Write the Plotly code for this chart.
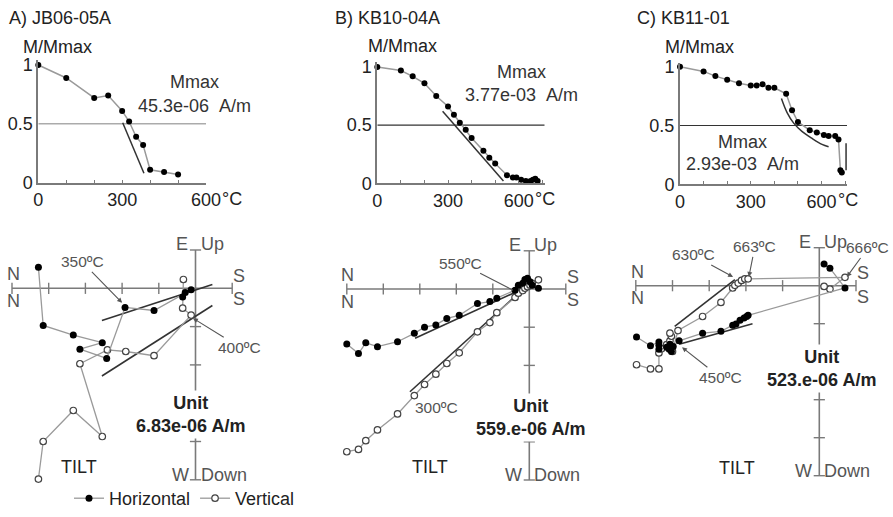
import plotly.graph_objects as go

W, H = 893, 517
FONT = "Liberation Sans, Arial, sans-serif"
AXC = "#7a7a7a"
DLINE = "#9a9a9a"
FITC = "#333333"
TXT = "#222222"
LBL = "#555555"

# ---------------- thermal demagnetisation curves ----------------
temp_a = [0, 100, 200, 250, 300, 325, 350, 375, 400, 450, 500]
mag_a = [1.00, 0.89, 0.72, 0.74, 0.61, 0.52, 0.39, 0.32, 0.11, 0.09, 0.07]
fit_temp_a = [302, 378]
fit_mag_a = [0.51, 0.08]

temp_b = [0, 100, 150, 200, 250, 300, 325, 350, 375, 400, 450, 475, 500, 550,
          575, 590, 610, 630, 650, 660, 670, 680]
mag_b = [1.00, 0.97, 0.92, 0.86, 0.75, 0.66, 0.59, 0.52, 0.46, 0.39, 0.28, 0.22,
         0.17, 0.07, 0.05, 0.05, 0.03, 0.02, 0.02, 0.03, 0.04, 0.02]
fit_temp_b = [277, 535]
fit_mag_b = [0.62, 0.02]

temp_c = [0, 100, 150, 200, 250, 300, 325, 350, 375, 400, 450, 475, 500, 550,
          580, 610, 630, 658, 672, 680, 686]
mag_c = [1.00, 0.96, 0.92, 0.89, 0.86, 0.84, 0.84, 0.85, 0.82, 0.82, 0.77, 0.63,
         0.53, 0.46, 0.44, 0.42, 0.41, 0.41, 0.38, 0.12, 0.10]
fit_temp_c = [430, 454, 482, 517, 560, 602, 630]
fit_mag_c = [0.73, 0.61, 0.52, 0.45, 0.39, 0.34, 0.32]
fit2_temp_c = [704, 704]
fit2_mag_c = [0.35, 0.12]

temp_ticks_a = [0, 100, 200, 300, 400, 500, 600]
temp_ticks_bc = [0, 100, 200, 300, 400, 500, 600, 700]
mag_ticks = [0, 0.5, 1]
mag_ticktext = ["0", "0.5", "1"]

# ---------------- Zijderveld diagrams (units of the tick spacing) ----------------
hor_x_a = [-4.28, -4.15, -3.33, -2.54, -3.15, -2.42, -1.92, -1.13, -0.12, -0.35, -0.28]
hor_y_a = [0.55, -0.97, -1.22, -1.42, -1.59, -1.83, -0.50, -0.58, -0.04, -0.23, -0.11]
ver_x_a = [-4.28, -4.15, -3.33, -2.54, -3.15, -2.40, -1.90, -1.13, -0.12, -0.35, -0.33]
ver_y_a = [-4.98, -4.00, -3.19, -3.87, -1.97, -1.61, -1.65, -1.76, -0.70, -0.52, 0.23]
hfit_x_a = [-2.55, 0.46]
hfit_y_a = [-0.84, 0.10]
vfit_x_a = [-2.55, 0.46]
vfit_y_a = [-2.29, -0.45]

hor_x_b = [-5.00, -4.68, -4.48, -4.16, -3.61, -3.15, -2.87, -2.56, -2.26, -1.92, -1.42,
           -1.08, -0.89, -0.39, -0.30, -0.18, -0.12, -0.05, 0.02, 0.08, 0.25]
hor_y_b = [-1.44, -1.69, -1.41, -1.51, -1.38, -1.16, -1.00, -0.94, -0.77, -0.69, -0.38,
           -0.33, -0.24, -0.03, 0.10, 0.15, 0.25, 0.28, 0.19, 0.10, 0.02]
ver_x_b = [-5.00, -4.68, -4.48, -4.16, -3.61, -3.15, -2.87, -2.56, -2.26, -1.92, -1.42,
           -1.08, -0.89, -0.39, -0.30, -0.18, -0.12, -0.05, 0.02, 0.08, 0.25]
ver_y_b = [-4.26, -4.20, -3.97, -3.69, -3.27, -2.79, -2.50, -2.23, -1.95, -1.67, -1.12,
           -0.88, -0.62, -0.22, -0.11, -0.04, 0.02, 0.06, 0.10, 0.15, 0.24]
hfit_x_b = [-3.13, -0.35]
hfit_y_b = [-1.29, -0.07]
vfit_x_b = [-3.27, -0.35]
vfit_y_b = [-2.69, -0.16]

hor_x_c = [-4.98, -4.60, -4.37, -4.37, -4.37, -4.16, -4.07, -4.09, -4.03, -3.98, -3.82,
           -3.18, -2.68, -2.36, -2.27, -2.16, -2.05, -1.98, -1.94, 0.70, 0.29, 0.13]
hor_y_c = [-1.35, -1.58, -1.48, -1.57, -1.67, -1.62, -1.54, -1.67, -1.73, -1.60, -1.45,
           -1.25, -1.20, -1.04, -1.01, -0.91, -0.85, -0.81, -0.78, -0.06, 0.46, 0.57]
ver_x_c = [-4.98, -4.60, -4.37, -4.37, -4.30, -4.16, -4.07, -4.03, -4.07, -4.00, -3.85,
           -3.18, -2.68, -2.36, -2.30, -2.21, -2.12, -2.03, -1.94, 0.70, 0.29, 0.13]
ver_y_c = [-2.08, -2.19, -2.19, -1.77, -1.66, -1.55, -1.45, -1.33, -1.25, -1.73, -1.18,
           -0.81, -0.44, -0.06, 0.01, 0.07, 0.14, 0.18, 0.18, 0.22, -0.09, -0.02]
hfit_x_c = [-3.82, -1.82]
hfit_y_c = [-1.54, -1.00]
vfit_x_c = [-3.94, -2.30]
vfit_y_c = [-1.07, 0.16]

zij_axis_extent = [-5, 1]
zij_ticks = [-5, -4, -3, -2, -1, 1]

titles = ["A) JB06-05A", "B) KB10-04A", "C) KB11-01"]
mmax_text = ["45.3e-06\u00a0\u00a0A/m", "3.77e-03\u00a0\u00a0A/m", "2.93e-03\u00a0\u00a0A/m"]
unit_text = ["6.83e-06 A/m", "559.e-06 A/m", "523.e-06 A/m"]

# ---------------- layout geometry (pixels) ----------------
def xd(p0, p1):
    return [p0 / W, p1 / W]


def yd(top, bottom):
    return [1 - bottom / H, 1 - top / H]


demag = [
    dict(t=temp_a, m=mag_a, ft=fit_temp_a, fm=fit_mag_a, xmax=600, ticks=temp_ticks_a,
         x0=38.3, x1=206.0, yzero=182.7, yone=65.0, ytop=60.0, half="#ababab", hw=1.5,
         title_x=7, mm_x=21, mm_y=47, mx_c=(194, 82, 106)),
    dict(t=temp_b, m=mag_b, ft=fit_temp_b, fm=fit_mag_b, xmax=710, ticks=temp_ticks_bc,
         x0=377.3, x1=544.7, yzero=183.3, yone=67.0, ytop=61.7, half="#333333", hw=1.2,
         title_x=333, mm_x=366, mm_y=46, mx_c=(521, 72, 95)),
    dict(t=temp_c, m=mag_c, ft=fit_temp_c, fm=fit_mag_c, xmax=708, ticks=temp_ticks_bc,
         x0=680.0, x1=847.0, yzero=184.3, yone=66.7, ytop=63.3, half="#333333", hw=1.2,
         title_x=635, mm_x=663, mm_y=47, mx_c=(742, 142, 164)),
]

zij = [
    dict(hx=hor_x_a, hy=hor_y_a, vx=ver_x_a, vy=ver_y_a, hfx=hfit_x_a, hfy=hfit_y_a,
         vfx=vfit_x_a, vfy=vfit_y_a, cx=195.5, cy=288.3, sx=36.7, sy=38.3,
         box=(0, 262, 232, 500), tilt=(79, 467), unit=(190, 414)),
    dict(hx=hor_x_b, hy=hor_y_b, vx=ver_x_b, vy=ver_y_b, hfx=hfit_x_b, hfy=hfit_y_b,
         vfx=vfit_x_b, vfy=vfit_y_b, cx=529.3, cy=289.0, sx=36.5, sy=38.2,
         box=(330, 600, 232, 500), tilt=(429.5, 467), unit=(530, 417.5)),
    dict(hx=hor_x_c, hy=hor_y_c, vx=ver_x_c, vy=ver_y_c, hfx=hfit_x_c, hfy=hfit_y_c,
         vfx=vfit_x_c, vfy=vfit_y_c, cx=819.3, cy=285.7, sx=36.7, sy=38.0,
         box=(615, 890, 232, 500), tilt=(736.5, 468), unit=(821, 368.5)),
]

fig = go.Figure()
layout = {}
annotations = []


def ptxt(text, x, y, size=18, color=LBL, xanchor="center", bg=None, pad=1):
    a = dict(text=text, x=x / W, y=1 - y / H, xref="paper", yref="paper",
             xanchor=xanchor, yanchor="middle", showarrow=False,
             font=dict(family=FONT, size=size, color=color), borderpad=pad)
    if bg:
        a["bgcolor"] = bg
    annotations.append(a)


def ax_ids(i):
    return ("x" if i == 1 else f"x{i}", "y" if i == 1 else f"y{i}",
            "xaxis" if i == 1 else f"xaxis{i}", "yaxis" if i == 1 else f"yaxis{i}")


# ---- demag panels ----
for i, d in enumerate(demag, start=1):
    xid, yid, xname, yname = ax_ids(i)
    ytop_val = (d["yzero"] - d["ytop"]) / (d["yzero"] - d["yone"])
    ticktext = ["0" if v == 0 else ("300" if v == 300 else ("600" if v == 600 else ""))
                for v in d["ticks"]]
    layout[xname] = dict(domain=xd(d["x0"], d["x1"]), range=[0, d["xmax"]], anchor=yid,
                         showline=True, linecolor=AXC, linewidth=2, ticks="inside",
                         ticklen=3, tickwidth=1.2, tickcolor=AXC, tickvals=d["ticks"],
                         ticktext=ticktext, showgrid=False, zeroline=False, automargin=False,
                         tickfont=dict(family=FONT, size=18, color=TXT), fixedrange=True)
    layout[yname] = dict(domain=yd(d["ytop"], d["yzero"]), range=[0, ytop_val], anchor=xid,
                         showline=True, linecolor=AXC, linewidth=2, ticks="",
                         tickvals=mag_ticks, ticktext=mag_ticktext, showgrid=False,
                         zeroline=False, automargin=False,
                         tickfont=dict(family=FONT, size=18, color=TXT), fixedrange=True)
    # 0.5 reference line
    fig.add_trace(go.Scatter(x=[0, d["xmax"]], y=[0.5, 0.5], mode="lines",
                             line=dict(color=d["half"], width=d["hw"]),
                             xaxis=xid, yaxis=yid, showlegend=False, hoverinfo="skip"))
    # fit line(s)
    fig.add_trace(go.Scatter(x=d["ft"], y=d["fm"], mode="lines",
                             line=dict(color=FITC, width=1.5, shape="spline"),
                             xaxis=xid, yaxis=yid, showlegend=False, hoverinfo="skip"))
    if i == 3:
        fig.add_trace(go.Scatter(x=fit2_temp_c, y=fit2_mag_c, mode="lines",
                                 line=dict(color=FITC, width=1.5),
                                 xaxis=xid, yaxis=yid, showlegend=False, hoverinfo="skip"))
    fig.add_trace(go.Scatter(x=d["t"], y=d["m"], mode="lines+markers",
                             line=dict(color=DLINE, width=1.5),
                             marker=dict(color="black", size=6),
                             cliponaxis=False, xaxis=xid, yaxis=yid, showlegend=False))
    # degree suffix after the 600 tick label
    annotations.append(dict(text="°C", x=600, y=0, xref=xid, yref=yid, xanchor="left",
                            yanchor="middle", xshift=14, yshift=-16, showarrow=False,
                            font=dict(family=FONT, size=18, color=TXT)))
    ptxt(titles[i - 1], d["title_x"], 18, color=TXT, xanchor="left")
    ptxt("M/Mmax", d["mm_x"], d["mm_y"], color=TXT, xanchor="left")
    ptxt("Mmax", d["mx_c"][0], d["mx_c"][1], color="#333")
    ptxt(mmax_text[i - 1], d["mx_c"][0], d["mx_c"][2], color="#333")

# ---- Zijderveld panels ----
for k, z in enumerate(zij):
    i = k + 4
    xid, yid, xname, yname = ax_ids(i)
    L, R, T, B = z["box"]
    cx, cy, sx, sy = z["cx"], z["cy"], z["sx"], z["sy"]
    layout[xname] = dict(domain=xd(L, R), range=[(L - cx) / sx, (R - cx) / sx],
                         anchor=yid, visible=False, fixedrange=True, automargin=False)
    layout[yname] = dict(domain=yd(T, B), range=[(cy - B) / sy, (cy - T) / sy],
                         anchor=xid, visible=False, fixedrange=True, automargin=False)
    e0, e1 = zij_axis_extent
    fig.add_trace(go.Scatter(x=[e0, e1, None, 0, 0], y=[0, 0, None, e0, e1], mode="lines",
                             line=dict(color=AXC, width=1.6), xaxis=xid, yaxis=yid,
                             showlegend=False, hoverinfo="skip"))
    fig.add_trace(go.Scatter(x=zij_ticks, y=[0] * len(zij_ticks), mode="markers",
                             marker=dict(symbol="line-ns", size=8,
                                         line=dict(color=AXC, width=1.4)),
                             xaxis=xid, yaxis=yid, showlegend=False, hoverinfo="skip"))
    fig.add_trace(go.Scatter(x=[0] * len(zij_ticks), y=zij_ticks, mode="markers",
                             marker=dict(symbol="line-ew", size=8,
                                         line=dict(color=AXC, width=1.4)),
                             xaxis=xid, yaxis=yid, showlegend=False, hoverinfo="skip"))
    for fx, fy in ((z["hfx"], z["hfy"]), (z["vfx"], z["vfy"])):
        fig.add_trace(go.Scatter(x=fx, y=fy, mode="lines", line=dict(color=FITC, width=1.6),
                                 xaxis=xid, yaxis=yid, showlegend=False, hoverinfo="skip"))
    fig.add_trace(go.Scatter(x=z["vx"], y=z["vy"], mode="lines+markers", name="Vertical",
                             line=dict(color=DLINE, width=1.3),
                             marker=dict(symbol="circle", size=6.5, color="white",
                                         line=dict(color="#444", width=1.2)),
                             cliponaxis=False, xaxis=xid, yaxis=yid,
                             showlegend=(k == 0), legendrank=2))
    fig.add_trace(go.Scatter(x=z["hx"], y=z["hy"], mode="lines+markers", name="Horizontal",
                             line=dict(color=DLINE, width=1.3),
                             marker=dict(symbol="circle", size=7, color="black"),
                             cliponaxis=False, xaxis=xid, yaxis=yid,
                             showlegend=(k == 0), legendrank=1))
    top = cy - sy * e1
    bot = cy - sy * e0
    ptxt("N", cx - 182, cy - 14)
    ptxt("N", cx - 182, cy + 12.5)
    ptxt("S", cx + 44, cy - 12.5)
    ptxt("S", cx + 44, cy + 11)
    ptxt("E", cx - 6, top - 6, xanchor="right")
    ptxt("Up", cx + 3, top - 6, xanchor="left")
    ptxt("W", cx - 5, bot - 5, xanchor="right")
    ptxt("Down", cx + 3, bot - 5, xanchor="left")
    ptxt("TILT", z["tilt"][0], z["tilt"][1], color=TXT)
    ptxt("<b>Unit</b><br><b>" + unit_text[k] + "</b>", z["unit"][0], z["unit"][1],
         color=TXT, bg="white", pad=2)

# temperature labels on the Zijderveld diagrams
temp_labels = [
    ("350ºC", "x4", "y4", -2.0, -0.38, -40, -41, 2),
    ("400ºC", "x4", "y4", -0.07, -0.78, 47, 29, 2),
    ("550ºC", "x5", "y5", -0.45, -0.03, -52, -27, 0),
    ("630ºC", "x6", "y6", -2.35, 0.23, -40, -22, 2),
    ("663ºC", "x6", "y6", -1.92, 0.23, 6, -30, 2),
    ("666ºC", "x6", "y6", 0.75, 0.23, 21, -29, 2),
    ("450ºC", "x6", "y6", -3.74, -1.62, 38, 30, 2),
]
for txt, xr, yr, x, y, axp, ayp, head in temp_labels:
    annotations.append(dict(text=txt, x=x, y=y, xref=xr, yref=yr, ax=axp, ay=ayp,
                            axref="pixel", ayref="pixel", showarrow=True, arrowhead=head,
                            arrowsize=0.9, arrowwidth=1.1, arrowcolor="#555", standoff=0,
                            font=dict(family=FONT, size=15.5, color=LBL)))
ptxt("300ºC", 436, 407, size=15.5)

fig.update_layout(
    template="none",
    width=W, height=H, autosize=False, margin=dict(l=0, r=0, t=0, b=0, pad=0),
    paper_bgcolor="white", plot_bgcolor="rgba(0,0,0,0)",
    font=dict(family=FONT, size=18, color=TXT),
    showlegend=True,
    legend=dict(orientation="h", x=69 / W, y=0, xanchor="left", yanchor="bottom",
                font=dict(family=FONT, size=18, color=TXT), itemwidth=30,
                bgcolor="rgba(0,0,0,0)", borderwidth=0, traceorder="normal",
                itemclick=False, itemdoubleclick=False),
    annotations=annotations,
    **layout,
)

fig.write_html(
    "out.html",
    config={"displayModeBar": False},
    post_script="document.body.style.margin='0';document.body.style.overflow='hidden';",
)
